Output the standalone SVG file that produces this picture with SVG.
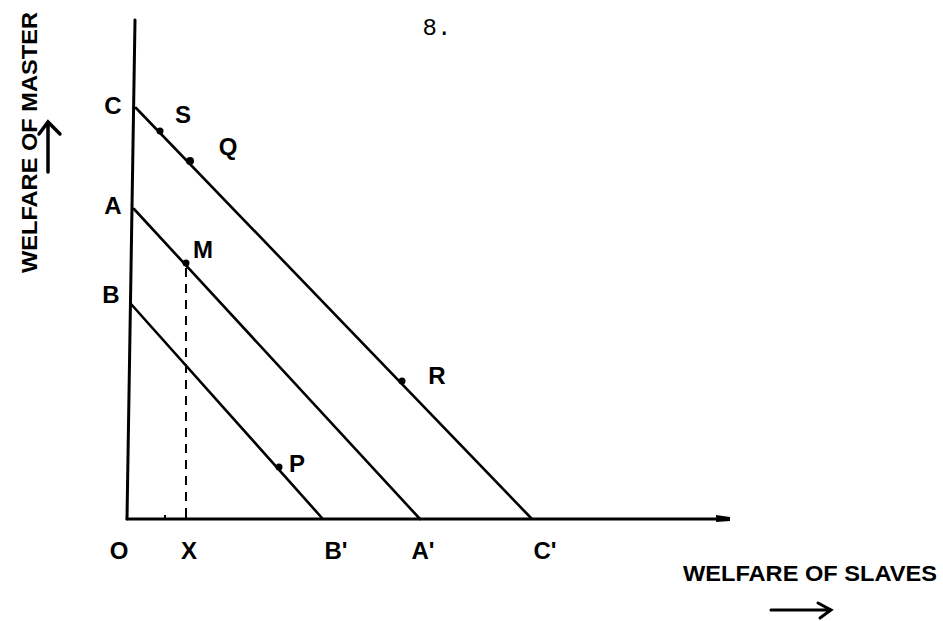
<svg xmlns="http://www.w3.org/2000/svg" width="943" height="621" viewBox="0 0 943 621">
<style>
.ax{stroke:#000;stroke-width:3;fill:none;stroke-linecap:round}
.ln{stroke:#000;stroke-width:2.6;fill:none;stroke-linecap:round}
.dash{stroke:#000;stroke-width:2;fill:none;stroke-dasharray:9 7}
.lbl{font-family:"Liberation Sans",Arial,sans-serif;font-weight:bold;font-size:24px;fill:#000;text-anchor:middle}
.cap{font-family:"Liberation Sans",Arial,sans-serif;font-weight:bold;font-size:22px;fill:#000}
.dot{fill:#000}
</style>
<rect width="943" height="621" fill="#fff"/>
<text x="437" y="35" font-family="Liberation Mono, monospace" font-size="24" text-anchor="middle">8.</text>
<g id="axes">
  <path class="ax" d="M135,20 L127,519"/>
  <path class="ax" d="M127,519 L728,519"/>
  <path d="M716,515 L730,517 L730,521 L716,522 Z" fill="#000"/>
  <path d="M165,519 L165,515 M186,519 L186,515" stroke="#000" stroke-width="2"/>
</g>
<g id="connectors">
  <path class="ln" d="M136,108 L531,518"/>
  <path class="ln" d="M134,209 L420,519"/>
  <path class="ln" d="M131,304 L322,518"/>
  <path class="dash" d="M186,268 L186,519"/>
</g>
<g id="node-S"><circle class="dot" cx="160" cy="131" r="3.5"/><text class="lbl" x="183" y="123">S</text></g>
<g id="node-Q"><circle class="dot" cx="190" cy="161" r="4"/><text class="lbl" x="228" y="155">Q</text></g>
<g id="node-M"><circle class="dot" cx="186" cy="263" r="3.5"/><text class="lbl" x="203" y="258">M</text></g>
<g id="node-R"><circle class="dot" cx="402" cy="381" r="3.5"/><text class="lbl" x="437" y="384">R</text></g>
<g id="node-P"><circle class="dot" cx="279" cy="467" r="3.5"/><text class="lbl" x="297" y="472">P</text></g>
<g id="node-C"><text class="lbl" x="113" y="114">C</text></g>
<g id="node-A"><text class="lbl" x="113" y="214">A</text></g>
<g id="node-B"><text class="lbl" x="111" y="303">B</text></g>
<g id="node-O"><text class="lbl" x="119" y="559">O</text></g>
<g id="node-X"><text class="lbl" x="189" y="559">X</text></g>
<g id="node-B1"><text class="lbl" x="336" y="559">B'</text></g>
<g id="node-A1"><text class="lbl" x="423" y="559">A'</text></g>
<g id="node-C1"><text class="lbl" x="545" y="559">C'</text></g>
<g id="ylabel">
  <text class="cap" transform="translate(37,273) rotate(-90)" textLength="261" lengthAdjust="spacingAndGlyphs">WELFARE OF MASTER</text>
  <path d="M48,172 L48,124 M39,134 L48,122 L60,134" stroke="#000" stroke-width="3.5" fill="none" stroke-linecap="round"/>
</g>
<g id="xlabel">
  <text class="cap" x="683" y="581" textLength="254" lengthAdjust="spacingAndGlyphs">WELFARE OF SLAVES</text>
  <path d="M771,610 L830,610 M818,603 L831,610 L820,618" stroke="#000" stroke-width="3" fill="none" stroke-linecap="round"/>
</g>
</svg>
